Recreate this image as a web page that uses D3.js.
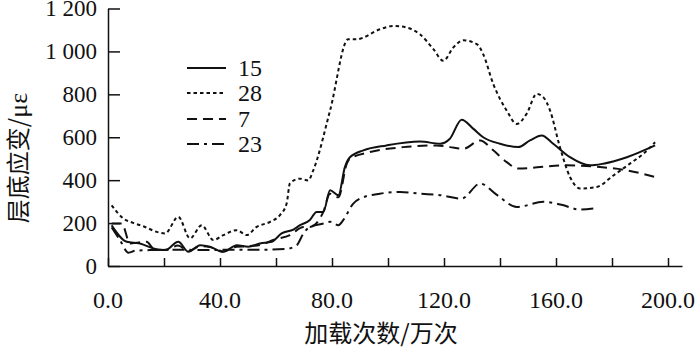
<!DOCTYPE html>
<html>
  <head>
    <meta charset="utf-8" />
    <title>层底应变</title>
    <script src="https://d3js.org/d3.v7.min.js"></script>
    <style>
      body { margin: 0; background: #fff; }
      svg text { fill: #111; }
      .num { font-family: "Liberation Serif", "DejaVu Serif", "Times New Roman", serif; font-size: 24px; }
      .cjk { font-family: "Noto Sans CJK SC", sans-serif; font-size: 24px; }
      .axis path, .axis line { stroke: #111; stroke-width: 1.5; }
      .series { fill: none; stroke: #111; stroke-width: 2; }
    </style>
  </head>
  <body>
    <svg id="chart" width="700" height="355"></svg>
    <script>
      // series names (legend order)
      const seriesNames = ['15', '28', '7', '23'];

      // [loading cycles (10k), strain (με)]
      const s15 = [[1.3,190],[6.7,113],[11.4,105],[16.1,82],[20.4,74],[25.1,113],[28.7,66],[32.9,97],[36.4,90],[41.1,66],[46,97],[50.1,90],[54.3,105],[58.5,113],[62,152],[66.2,170],[68.6,190],[72.1,214],[74.5,252],[76.9,252],[79.3,353],[82.3,330],[84.6,461],[86.4,507],[91.2,539],[99.5,562],[111.4,580],[118.6,570],[122.1,593],[126.3,682],[130.5,639],[134,600],[140,570],[146.5,554],[150.7,585],[154.9,608],[159,570],[165,507],[172.1,469],[176.9,477],[185.3,507],[195.4,562]];
      const s28 = [[1.3,283],[5.5,221],[9,201],[13.2,182],[17.4,159],[20.4,152],[25.1,229],[29.3,129],[33.5,190],[37.6,121],[41.2,144],[46,167],[49.5,144],[53.1,182],[57.9,206],[61.4,237],[63.8,291],[65,387],[68.6,407],[71.5,399],[73.3,446],[79.3,724],[85.8,1057],[88.8,1057],[97.1,1103],[101.9,1119],[106.7,1111],[111.4,1080],[116.2,1011],[119.8,956],[123.3,1018],[126.9,1052],[131.7,1034],[134,987],[137.6,848],[142.4,724],[146,662],[149.5,709],[153.1,802],[155.5,786],[157.9,724],[161.4,554],[165,415],[168.6,361],[174.5,368],[180.5,422],[186.4,477],[191.2,523],[195.4,577]];
      const s7 = [[1.3,198],[4.9,198],[7.9,105],[11,110],[13.8,113],[16.2,82],[20.4,74],[25,95],[28.7,70],[33,92],[36.4,88],[41.1,68],[46,90],[50,92],[55,100],[59,121],[65,144],[69.8,182],[72.1,182],[76.9,252],[79.3,337],[82.3,320],[85.3,477],[86.4,500],[93.6,531],[105.5,554],[117.4,562],[122.1,554],[126.9,546],[132.9,585],[137.6,539],[142.4,484],[146.5,454],[154.3,461],[163.8,469],[175.7,461],[185.3,446],[195.4,415]];
      const s23 = [[1.3,180],[4.3,120],[7.3,62],[10,72],[15,74],[25,76],[35,74],[45,76],[55,76],[63.8,80],[67.4,97],[69.8,152],[72.1,182],[76.9,198],[79.3,206],[82.3,190],[84,214],[87.6,291],[90,314],[97.1,337],[104.3,345],[111.4,337],[118.6,330],[126.3,314],[132.9,384],[139,330],[146,275],[155.5,299],[162,285],[168.6,263],[174.5,270]];

      const xTicks = [0, 20, 40, 60, 80, 100, 120, 140, 160, 180, 200];
      const xLabels = ['0.0', '', '40.0', '', '80.0', '', '120.0', '', '160.0', '', '200.0'];
      const yTicks = [0, 200, 400, 600, 800, 1000, 1200];
      const yLabels = ['0', '200', '400', '600', '800', '1 000', '1 200'];

      const allSeries = [s15, s28, s7, s23];
      const dashes = ['none', '3.5,3', '10,6', '12,5,3,5'];

      const svg = d3.select('#chart');

      const x = d3.scaleLinear().domain([0, 205]).range([108, 682]);
      const y = d3.scaleLinear().domain([0, 1200]).range([266, 8.5]);

      // x axis, ticks pointing inward
      svg.append('g')
         .attr('class', 'axis')
         .attr('transform', `translate(0,${y(0)})`)
         .call(d3.axisBottom(x).tickValues(xTicks).tickSize(-8).tickSizeOuter(0).tickFormat(''));

      svg.append('g')
         .attr('class', 'axis')
         .attr('transform', `translate(${x(0)},0)`)
         .call(d3.axisLeft(y).tickValues(yTicks).tickSize(-12).tickSizeOuter(0).tickFormat(''));

      svg.selectAll('.xlab')
         .data(xTicks)
         .enter().append('text')
           .attr('class', 'num')
           .attr('x', d => x(d))
           .attr('y', 308)
           .attr('text-anchor', 'middle')
           .text((d, i) => xLabels[i]);

      svg.selectAll('.ylab')
         .data(yTicks)
         .enter().append('text')
           .attr('class', 'num')
           .attr('x', 97)
           .attr('y', d => y(d) + 7.5)
           .style('font-size', '23px')
           .attr('text-anchor', 'end')
           .text((d, i) => yLabels[i]);

      // axis titles
      svg.append('text')
         .attr('class', 'cjk')
         .attr('x', 381)
         .attr('y', 342)
         .attr('text-anchor', 'middle')
         .text('加载次数/万次');

      const yt = svg.append('text')
         .attr('class', 'cjk')
         .attr('transform', 'translate(27,158) rotate(-90)')
         .attr('text-anchor', 'middle');
      yt.append('tspan').text('层底应变/');
      yt.append('tspan').attr('class', 'num').style('font-size', '26px').text('με');

      // lines
      const line = d3.line()
                     .x(d => x(d[0]))
                     .y(d => y(d[1]))
                     .curve(d3.curveMonotoneX);

      svg.selectAll('.series')
         .data(allSeries)
         .enter().append('path')
           .attr('class', 'series')
           .attr('stroke-dasharray', (d, i) => dashes[i])
           .attr('d', line);

      // legend
      const legendY = [68, 93, 119, 144];
      const lg = svg.selectAll('.legend')
         .data(seriesNames)
         .enter().append('g')
           .attr('transform', (d, i) => `translate(187,${legendY[i]})`);
      lg.append('line')
        .attr('class', 'series')
        .attr('x1', 0).attr('x2', 39)
        .attr('stroke-dasharray', (d, i) => dashes[i]);
      lg.append('text')
        .attr('class', 'num')
        .attr('x', 51)
        .attr('y', 8)
        .text(d => d);
    </script>
  </body>
</html>
